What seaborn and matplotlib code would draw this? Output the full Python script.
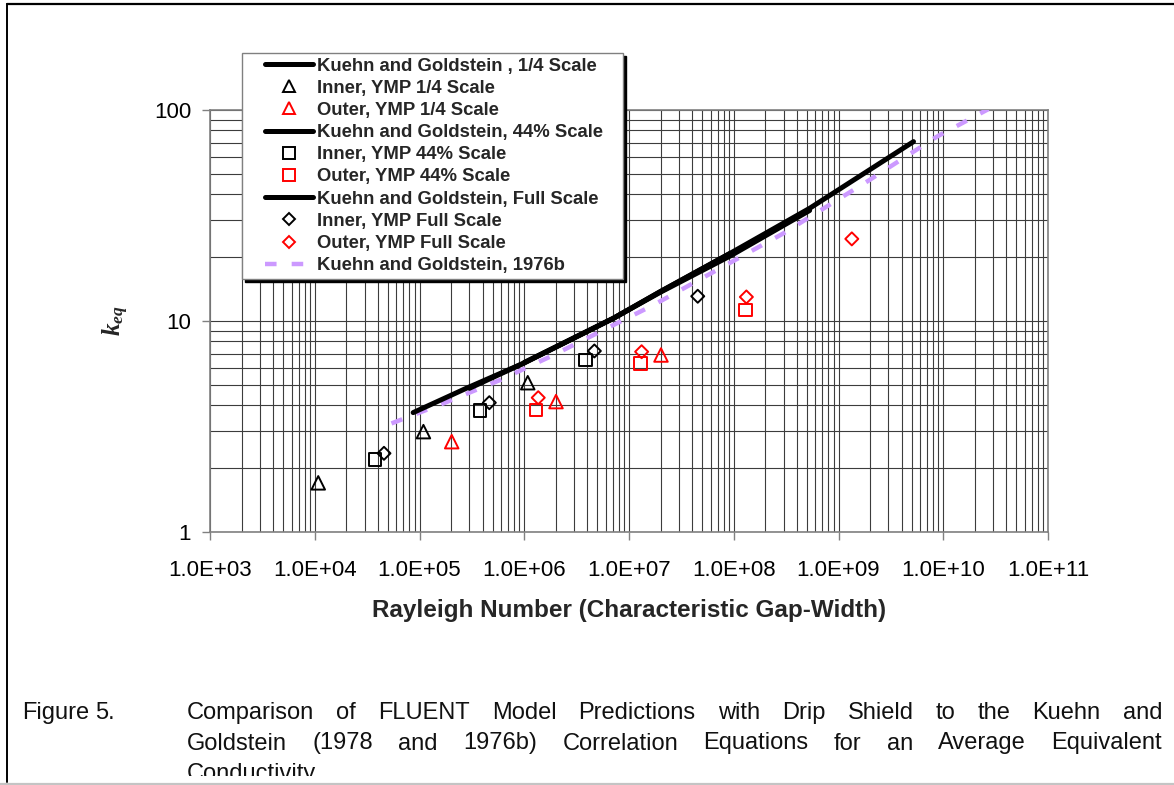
import matplotlib
matplotlib.use("Agg")
import numpy as np
import matplotlib.pyplot as plt
import seaborn as sns
from matplotlib.lines import Line2D
from matplotlib.patches import Rectangle
from matplotlib.legend_handler import HandlerLine2D
from matplotlib.ticker import (LogLocator, FixedLocator, FuncFormatter,
                               NullFormatter)
from matplotlib import font_manager

# ---- FLUENT predictions (Rayleigh number vs. equivalent conductivity) ----
ra_inner_quarter = [1.08e4, 1.09e5, 1.08e6]
k_inner_quarter = [1.71, 2.99, 5.10]
ra_outer_quarter = [2.03e5, 2.01e6, 2.02e7]
k_outer_quarter = [2.68, 4.15, 6.90]

ra_inner_44 = [3.76e4, 3.78e5, 3.83e6]
k_inner_44 = [2.21, 3.76, 6.53]
ra_outer_44 = [1.29e6, 1.29e7, 1.30e8]
k_outer_44 = [3.79, 6.30, 11.3]

ra_inner_full = [4.58e4, 4.64e5, 4.67e6, 4.53e7]
k_inner_full = [2.36, 4.10, 7.21, 13.1]
ra_outer_full = [1.36e6, 1.32e7, 1.32e8, 1.34e9]
k_outer_full = [4.33, 7.15, 13.0, 24.5]

# ---- Kuehn and Goldstein correlation curves ----
ra_kg_quarter = [8.7e4, 2.8e5, 9.8e5, 7.1e6, 2.0e7, 9.2e7]
k_kg_quarter = [3.68, 4.80, 6.30, 10.3, 13.8, 20.9]
ra_kg_44 = [3.0e5, 9.8e5, 7.1e6, 2.0e7, 9.2e7, 5.3e8]
k_kg_44 = [4.80, 6.30, 10.3, 13.7, 20.3, 33.4]
ra_kg_full = [1.0e6, 7.1e6, 2.0e7, 9.2e7, 5.3e8, 5.2e9]
k_kg_full = [6.36, 10.3, 13.8, 20.9, 34.2, 70.8]
ra_kg_1976b = [5.4e4, 1.69e5, 5.87e5, 1.76e6, 1.71e7, 2.97e8, 1.86e9, 8.67e9, 2.7e10]
k_kg_1976b = [3.27, 4.07, 5.25, 6.77, 11.9, 26.0, 45.7, 74.7, 101.0]

x_ticks = [1e3, 1e4, 1e5, 1e6, 1e7, 1e8, 1e9, 1e10, 1e11]
y_ticks = [1, 10, 100]

legend_labels = [
    "Kuehn and Goldstein , 1/4 Scale",
    "Inner, YMP 1/4 Scale",
    "Outer, YMP 1/4 Scale",
    "Kuehn and Goldstein, 44% Scale",
    "Inner, YMP 44% Scale",
    "Outer, YMP 44% Scale",
    "Kuehn and Goldstein, Full Scale",
    "Inner, YMP Full Scale",
    "Outer, YMP Full Scale",
    "Kuehn and Goldstein, 1976b",
]
caption_tag = "Figure 5."
caption_lines = [
    "Comparison of FLUENT Model Predictions with Drip Shield to the Kuehn and",
    "Goldstein (1978 and 1976b) Correlation Equations for an Average Equivalent",
    "Conductivity",
]
xlabel = "Rayleigh Number (Characteristic Gap-Width)"

# ---- style ----
sns.set_style("white")
plt.rcParams["font.family"] = ["Liberation Sans", "DejaVu Sans"]
plt.rcParams["mathtext.fontset"] = "custom"
plt.rcParams["mathtext.it"] = "Liberation Serif:italic:bold"
plt.rcParams["mathtext.rm"] = "Liberation Serif:bold"

RED = "#FF0000"
LAV = "#CC99FF"
W, H = 1174, 785

fig = plt.figure(figsize=(W / 100, H / 100), dpi=100)
fig.patch.set_facecolor("white")
ax = fig.add_axes([210 / W, 1 - 532 / H, 838 / W, 422 / H])
ax.set_xscale("log")
ax.set_yscale("log")

# correlation curves
line_kw = dict(estimator=None, sort=False, ax=ax, legend=False)
sns.lineplot(x=ra_kg_1976b, y=k_kg_1976b, color=LAV, lw=3.2,
             linestyle=(0, (2.6, 3.4)), zorder=3, **line_kw)
for xs, ys in [(ra_kg_quarter, k_kg_quarter), (ra_kg_44, k_kg_44),
               (ra_kg_full, k_kg_full)]:
    sns.lineplot(x=xs, y=ys, color="black", lw=3.6, solid_capstyle="round",
                 zorder=4, **line_kw)

# FLUENT points
sizes = {"^": 95, "s": 80, "D": 44}
series = [
    (ra_inner_quarter, k_inner_quarter, "^", "black"),
    (ra_outer_quarter, k_outer_quarter, "^", RED),
    (ra_inner_44, k_inner_44, "s", "black"),
    (ra_outer_44, k_outer_44, "s", RED),
    (ra_inner_full, k_inner_full, "D", "black"),
    (ra_outer_full, k_outer_full, "D", RED),
]
for xs, ys, m, c in series:
    sns.scatterplot(x=xs, y=ys, marker=m, s=sizes[m], facecolor="none",
                    edgecolor=c, linewidth=1.4, zorder=5, ax=ax, legend=False)

# axes
ax.xaxis.set_major_locator(FixedLocator(x_ticks))
ax.yaxis.set_major_locator(FixedLocator(y_ticks))
ax.xaxis.set_minor_locator(LogLocator(base=10, subs=np.arange(2, 10), numticks=100))
ax.yaxis.set_minor_locator(LogLocator(base=10, subs=np.arange(2, 10), numticks=100))
ax.xaxis.set_minor_formatter(NullFormatter())
ax.yaxis.set_minor_formatter(NullFormatter())
ax.xaxis.set_major_formatter(FuncFormatter(lambda v, p: f"{v:.1E}"))
ax.yaxis.set_major_formatter(FuncFormatter(lambda v, p: f"{v:g}"))
ax.set_xlim(x_ticks[0], x_ticks[-1])
ax.set_ylim(y_ticks[0], y_ticks[-1])

ax.grid(True, which="both", color="#3c3c3c", lw=0.8)
ax.set_axisbelow(True)
for s in ax.spines.values():
    s.set_color("#808080")
    s.set_linewidth(1.2)
ax.tick_params(which="major", bottom=True, left=True, direction="out",
               length=5.5, width=1.0, color="#808080", labelsize=16,
               labelcolor="black")
ax.tick_params(axis="x", which="major", pad=14.5)
ax.tick_params(axis="y", which="major", pad=8)
ax.tick_params(which="minor", length=0)

ax.set_xlabel(xlabel, fontsize=17.5, fontweight="bold")
ax.xaxis.set_label_coords(0.5, -0.158)
ax.set_ylabel(r"$k_{eq}$", fontsize=18)
ax.yaxis.set_label_coords(-0.094, 0.5)

# legend
handles = [
    Line2D([], [], color="black", lw=3.6),
    Line2D([], [], ls="none", marker="^", ms=8.5, mfc="none", mec="black", mew=1.4),
    Line2D([], [], ls="none", marker="^", ms=8.5, mfc="none", mec=RED, mew=1.4),
    Line2D([], [], color="black", lw=3.6),
    Line2D([], [], ls="none", marker="s", ms=8.5, mfc="none", mec="black", mew=1.4),
    Line2D([], [], ls="none", marker="s", ms=8.5, mfc="none", mec=RED, mew=1.4),
    Line2D([], [], color="black", lw=3.6),
    Line2D([], [], ls="none", marker="D", ms=6.3, mfc="none", mec="black", mew=1.4),
    Line2D([], [], ls="none", marker="D", ms=6.3, mfc="none", mec=RED, mew=1.4),
    Line2D([], [], color=LAV, lw=3.2, linestyle=(0, (2.6, 3.4))),
]
leg_top = 1 - 53 / H
leg = ax.legend(
    handles, legend_labels, loc="upper left",
    bbox_to_anchor=(242 / W, 0.5, 381 / W, leg_top - 0.5),
    bbox_transform=fig.transFigure, mode="expand", borderaxespad=0,
    borderpad=0.25, labelspacing=0.28, handlelength=3.6, handletextpad=0.22,
    numpoints=1, fancybox=False, shadow={"color": "black", "alpha": 1.0},
    framealpha=1, edgecolor="#808080",
    prop={"weight": "bold", "size": 13.3},
    handler_map={Line2D: HandlerLine2D(xpad=1.0)},
)
leg.get_frame().set_linewidth(1.0)
leg.set_zorder(10)

# caption, justified between fixed margins
names = {f.name for f in font_manager.fontManager.ttflist}
cap_family = "Liberation Sans Narrow" if "Liberation Sans Narrow" in names else "Liberation Sans"
cap_size = 17
renderer = fig.canvas.get_renderer()


def place_words(text, x0, x1, baseline, justify=True):
    y = 1 - baseline / H
    words = text.split()
    arts = [fig.text(x0 / W, y, w, family=cap_family, size=cap_size,
                     ha="left", va="baseline", color="#111111") for w in words]
    widths = [a.get_window_extent(renderer).width for a in arts]
    if justify and len(arts) > 1:
        gap = (x1 - x0 - sum(widths)) / (len(arts) - 1)
    else:
        gap = 6
    x = x0
    for a, w in zip(arts, widths):
        a.set_x(x / W)
        x += w + gap


place_words(caption_tag, 22, 22, 719, justify=False)
place_words(caption_lines[0], 187, 1162, 719)
place_words(caption_lines[1], 187, 1162, 749.5)
place_words(caption_lines[2], 187, 1162, 780, justify=False)

# page frame
fig.add_artist(Rectangle((0, 0), 1, 9 / H, transform=fig.transFigure,
                         facecolor="white", edgecolor="none", zorder=20))
fig.add_artist(Line2D([0, 1], [1.5 / H, 1.5 / H], transform=fig.transFigure,
                      color="#c4c4c4", lw=1.6, zorder=21))
fig.add_artist(Line2D([7 / W, 1], [1 - 3.5 / H, 1 - 3.5 / H],
                      transform=fig.transFigure, color="black", lw=1.6, zorder=21))
fig.add_artist(Line2D([7 / W, 7 / W], [1 - 3.5 / H, 3 / H],
                      transform=fig.transFigure, color="black", lw=1.4, zorder=21))

fig.savefig("out.png", dpi=100)
